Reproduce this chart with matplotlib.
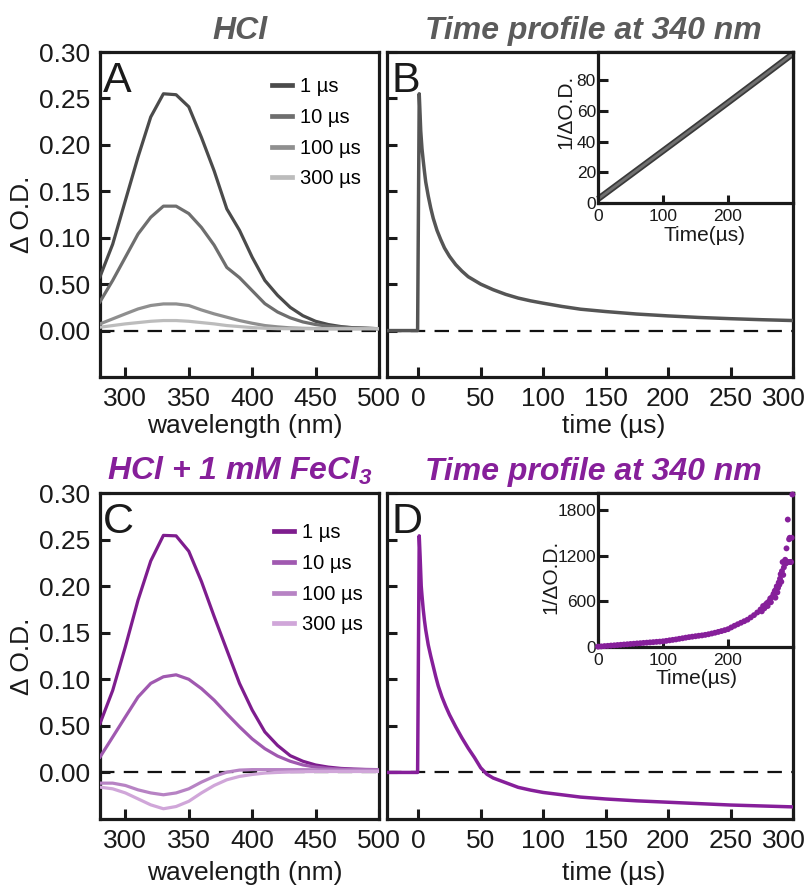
import matplotlib
matplotlib.use('Agg')
import matplotlib.pyplot as plt
from matplotlib.lines import Line2D
from matplotlib.transforms import ScaledTranslation

plt.rcParams['font.family'] = ['Liberation Sans', 'DejaVu Sans']

# ---------------- data ----------------
wavelength = [280, 290, 300, 310, 320, 330, 340, 350, 360, 370, 380, 390,
              400, 410, 420, 430, 440, 450, 460, 470, 480, 490, 500]

hcl_1us = [0.058, 0.093, 0.140, 0.187, 0.230, 0.255, 0.254, 0.241, 0.208, 0.172, 0.131, 0.108,
           0.079, 0.054, 0.038, 0.025, 0.016, 0.010, 0.0065, 0.0043, 0.003, 0.0025, 0.002]
hcl_10us = [0.031, 0.054, 0.079, 0.104, 0.122, 0.134, 0.134, 0.126, 0.111, 0.092, 0.068, 0.057,
            0.043, 0.029, 0.020, 0.0137, 0.0093, 0.0065, 0.0047, 0.0036, 0.003, 0.0025, 0.002]
hcl_100us = [0.0072, 0.0126, 0.018, 0.0233, 0.027, 0.0287, 0.0287, 0.027, 0.0222, 0.018, 0.0144, 0.0108,
             0.0079, 0.0054, 0.004, 0.0029, 0.0024, 0.0022, 0.002, 0.002, 0.002, 0.002, 0.002]
hcl_300us = [0.0036, 0.0054, 0.0072, 0.0086, 0.010, 0.0108, 0.0108, 0.010, 0.0086, 0.0072, 0.0054, 0.0043,
             0.0032, 0.0025, 0.002, 0.002, 0.002, 0.002, 0.002, 0.002, 0.002, 0.002, 0.002]

fe_1us = [0.0525, 0.088, 0.135, 0.185, 0.227, 0.2545, 0.254, 0.2375, 0.205, 0.1675, 0.1315, 0.0956,
          0.067, 0.0435, 0.029, 0.018, 0.012, 0.008, 0.0057, 0.0043, 0.0036, 0.0032, 0.003]
fe_10us = [0.0165, 0.038, 0.0596, 0.081, 0.0956, 0.1027, 0.1048, 0.100, 0.090, 0.0776, 0.063, 0.049,
           0.036, 0.0255, 0.0176, 0.012, 0.008, 0.0057, 0.0043, 0.0036, 0.0032, 0.003, 0.003]
fe_100us = [-0.0115, -0.0115, -0.014, -0.0187, -0.022, -0.024, -0.022, -0.0176, -0.0104, -0.0043, 0.0003, 0.0025,
            0.003, 0.003, 0.003, 0.003, 0.003, 0.0028, 0.0026, 0.0025, 0.0025, 0.0025, 0.0025]
fe_300us = [-0.0158, -0.0176, -0.022, -0.0284, -0.0348, -0.039, -0.0366, -0.031, -0.022, -0.014, -0.0079, -0.0043,
            -0.0022, -0.0007, 0.0, 0.0005, 0.0008, 0.001, 0.001, 0.001, 0.001, 0.001, 0.001]

delay_labels = ['1 µs', '10 µs', '100 µs', '300 µs']

# time profiles at 340 nm
time_b = [-25, -0.5, 0.8, 1.5, 2, 3, 4, 5, 6, 8, 10, 12, 15, 18, 21, 25, 30, 35, 40, 45, 50,
          60, 70, 80, 90, 100, 115, 130, 150, 175, 200, 225, 250, 275, 300]
od_b = [0.0, 0.0, 0.255, 0.232, 0.215, 0.196, 0.183, 0.171, 0.160, 0.145, 0.132, 0.121, 0.108,
        0.098, 0.089, 0.080, 0.071, 0.064, 0.058, 0.054, 0.050, 0.044, 0.039, 0.035, 0.032,
        0.0295, 0.026, 0.023, 0.0205, 0.0178, 0.0158, 0.0141, 0.0128, 0.0117, 0.0108]

time_d = [-25, -0.5, 0.8, 1.5, 2.4, 3, 4, 5, 6, 8, 10, 12, 14, 16, 19, 22, 25, 30, 35, 40, 45, 50,
          55, 60, 70, 80, 90, 100, 115, 130, 150, 175, 200, 225, 250, 275, 300]
od_d = [0.0, 0.0, 0.254, 0.232, 0.200, 0.190, 0.175, 0.163, 0.153, 0.137, 0.125, 0.114, 0.103,
        0.093, 0.081, 0.071, 0.062, 0.049, 0.037, 0.026, 0.016, 0.005, -0.002, -0.006, -0.011,
        -0.016, -0.019, -0.0215, -0.024, -0.0265, -0.0285, -0.0305, -0.032, -0.0335, -0.035,
        -0.036, -0.037]

# insets: 1/ΔO.D. vs time
inset_b_time = [0, 50, 100, 150, 200, 250, 300]
inset_b_inv = [2.6, 18.3, 34.0, 49.7, 65.5, 81.4, 97.4]

inset_d_time = [0, 5, 10, 15, 20, 25, 30, 35, 40, 45, 50, 55, 60, 65, 70, 75, 80, 85, 90, 95,
                100, 105, 110, 115, 120, 125, 130, 135, 140, 145, 150, 155, 160, 165, 170, 175,
                180, 185, 190, 195, 200, 205, 210, 215, 220, 225, 230, 235, 240, 245, 250,
                252, 254, 256, 258, 260, 261, 263, 265, 266, 268, 270, 271, 272, 273, 274, 275,
                276, 277, 278, 279, 280, 281, 282, 283, 284, 285, 286, 287, 288, 289, 290, 291,
                292, 293, 294, 295, 296, 297, 298, 299]
inset_d_inv = [5, 8, 12, 15, 19, 22, 26, 29, 33, 36, 40, 43, 47, 50, 54, 57, 61, 64, 68, 71,
               75, 81, 88, 94, 100, 108, 115, 123, 130, 136, 142, 148, 153, 160, 168, 178,
               188, 199, 210, 222, 235, 258, 280, 300, 320, 340, 360, 390, 420, 455, 495,
               470, 540, 510, 560, 580, 540, 600, 640, 590, 660, 700, 680, 740, 650, 760, 800,
               720, 780, 850, 820, 900, 960, 860, 1000, 1120, 950, 1050, 1120, 1150, 1100, 1300, 1120,
               1680, 1120, 1420, 1440, 1120, 1120, 1440, 2010]

# ---------------- styling ----------------
W, H = 809, 888
grey_cols = ['#4b4b4b', '#6e6e6e', '#8f8f8f', '#bcbcbc']
purple_cols = ['#7e1d8e', '#a059b0', '#b783c4', '#d0a6d9']
grey_title = '#5b5b5b'
purple_title = '#861f9a'

fig = plt.figure(figsize=(W / 100, H / 100), dpi=100)


def rect(l, t, r, b):
    return [l / W, 1 - b / H, (r - l) / W, (b - t) / H]


SP_LW = 2.3
TICK_FS = 19
TITLE_FS = 23


def style_main(ax, ylabels=True):
    for s in ax.spines.values():
        s.set_linewidth(SP_LW)
        s.set_color('#1a1a1a')
    ax.tick_params(direction='in', length=7.5, width=2.2, labelsize=TICK_FS, pad=7,
                   top=False, right=False, color='#1a1a1a', labelcolor='#1a1a1a')
    ax.set_ylim(-0.05, 0.30)
    ax.set_yticks([0.0, 0.05, 0.10, 0.15, 0.20, 0.25, 0.30])
    if ylabels:
        ax.set_yticklabels(['0.00', '0.50', '0.10', '0.15', '0.20', '0.25', '0.30'])
    else:
        ax.set_yticklabels([])
    ax.axhline(0, color='#111111', lw=1.6, dashes=(6.5, 4.2), zorder=1)


def style_inset(ax):
    for s in ax.spines.values():
        s.set_linewidth(SP_LW)
        s.set_color('#1a1a1a')
    ax.tick_params(axis='y', direction='in', length=7, width=2.2, labelsize=12.5, pad=1.5,
                   color='#1a1a1a', labelcolor='#1a1a1a')
    ax.tick_params(axis='x', direction='in', length=6, width=2.2, labelsize=12.5, pad=4,
                   color='#1a1a1a', labelcolor='#1a1a1a')
    ax.set_xlim(0, 300)
    ax.set_xticks([0, 100, 200])


def spectra(ax, series, cols):
    for vals, c in zip(series, cols):
        ax.plot(wavelength, vals, color=c, lw=2.3, zorder=3)
    ax.set_xlim(280, 500)
    ax.set_xticks([300, 350, 400, 450, 500])


def legend(ax, cols, x, y):
    handles = [Line2D([], [], color=c, lw=3.4) for c in cols]
    ax.legend(handles, delay_labels, loc='upper left', bbox_to_anchor=(x, y),
              frameon=False, fontsize=14.5, handlelength=0.95, handletextpad=0.4,
              labelspacing=0.58, borderpad=0, borderaxespad=0)


def time_axis(ax):
    ax.set_xlim(-25, 300)
    ax.set_xticks([0, 50, 100, 150, 200, 250, 300])
    last = ax.get_xticklabels()[-1]
    last.set_transform(last.get_transform() + ScaledTranslation(-9 / 100, 0, fig.dpi_scale_trans))


# Panel A
axA = fig.add_axes(rect(100, 52, 379, 377))
style_main(axA)
spectra(axA, [hcl_1us, hcl_10us, hcl_100us, hcl_300us], grey_cols)
legend(axA, grey_cols, 0.618, 0.922)

# Panel B
axB = fig.add_axes(rect(387, 52, 793, 377))
style_main(axB, ylabels=False)
axB.plot(time_b, od_b, color='#555555', lw=2.5, zorder=3)
time_axis(axB)

# Panel C
axC = fig.add_axes(rect(100, 493, 379, 819))
style_main(axC)
spectra(axC, [fe_1us, fe_10us, fe_100us, fe_300us], purple_cols)
legend(axC, purple_cols, 0.625, 0.907)

# Panel D
axD = fig.add_axes(rect(387, 493, 793, 819))
style_main(axD, ylabels=False)
axD.plot(time_d, od_d, color='#861f9a', lw=2.5, zorder=3)
time_axis(axD)

# Inset B
inB = fig.add_axes(rect(598, 52, 793, 203))
style_inset(inB)
inB.plot(inset_b_time, inset_b_inv, color='#3a3a3a', lw=4.5, solid_capstyle='butt', clip_on=False)
inB.plot(inset_b_time, inset_b_inv, color='#707070', lw=2.0, solid_capstyle='butt', clip_on=False)
inB.set_ylim(0, 98.5)
inB.set_yticks([0, 20, 40, 60, 80])

# Inset D
inD = fig.add_axes(rect(598, 493, 793, 647))
style_inset(inD)
inD.scatter(inset_d_time, inset_d_inv, s=18, color='#861f9a', edgecolors='none', clip_on=False, zorder=3)
inD.set_ylim(0, 2030)
inD.set_yticks([0, 600, 1200, 1800])

# panel letters
for ax, letter in [(axA, 'A'), (axB, 'B'), (axC, 'C'), (axD, 'D')]:
    ax.text(0.012, 0.876, letter, transform=ax.transAxes, fontsize=31, color='#1a1a1a',
            ha='left', va='baseline')

# titles
fig.text(240 / W, 1 - 39 / H, 'HCl', fontsize=TITLE_FS, fontweight='bold', fontstyle='italic',
         color=grey_title, ha='center', va='baseline')
fig.text(593 / W, 1 - 39 / H, 'Time profile at 340 nm', fontsize=TITLE_FS, fontweight='bold',
         fontstyle='italic', color=grey_title, ha='center', va='baseline')
fig.text(240 / W, 1 - 480 / H, 'HCl + 1 mM FeCl$_{\\mathregular{3}}$', fontsize=TITLE_FS, fontweight='bold',
         fontstyle='italic', color=purple_title, ha='center', va='baseline')
fig.text(593 / W, 1 - 480 / H, 'Time profile at 340 nm', fontsize=TITLE_FS, fontweight='bold',
         fontstyle='italic', color=purple_title, ha='center', va='baseline')

# axis labels
for yc in (214, 656):
    fig.text(22 / W, 1 - yc / H, 'Δ O.D.', fontsize=19, rotation=90, color='#1a1a1a',
             ha='center', va='center')
fig.text(245 / W, 1 - 433 / H, 'wavelength (nm)', fontsize=19, color='#1a1a1a', ha='center', va='baseline')
fig.text(614 / W, 1 - 433 / H, 'time (µs)', fontsize=19, color='#1a1a1a', ha='center', va='baseline')
fig.text(245 / W, 1 - 880 / H, 'wavelength (nm)', fontsize=19, color='#1a1a1a', ha='center', va='baseline')
fig.text(614 / W, 1 - 880 / H, 'time (µs)', fontsize=19, color='#1a1a1a', ha='center', va='baseline')

# inset labels
fig.text(566 / W, 1 - 112 / H, '1/ΔO.D.', fontsize=15, rotation=90, color='#1a1a1a', ha='center', va='center')
fig.text(551 / W, 1 - 577 / H, '1/ΔO.D.', fontsize=15, rotation=90, color='#1a1a1a', ha='center', va='center')
fig.text(705 / W, 1 - 241 / H, 'Time(µs)', fontsize=15, color='#1a1a1a', ha='center', va='baseline')
fig.text(697 / W, 1 - 684 / H, 'Time(µs)', fontsize=15, color='#1a1a1a', ha='center', va='baseline')

fig.savefig('out.png', dpi=100)
